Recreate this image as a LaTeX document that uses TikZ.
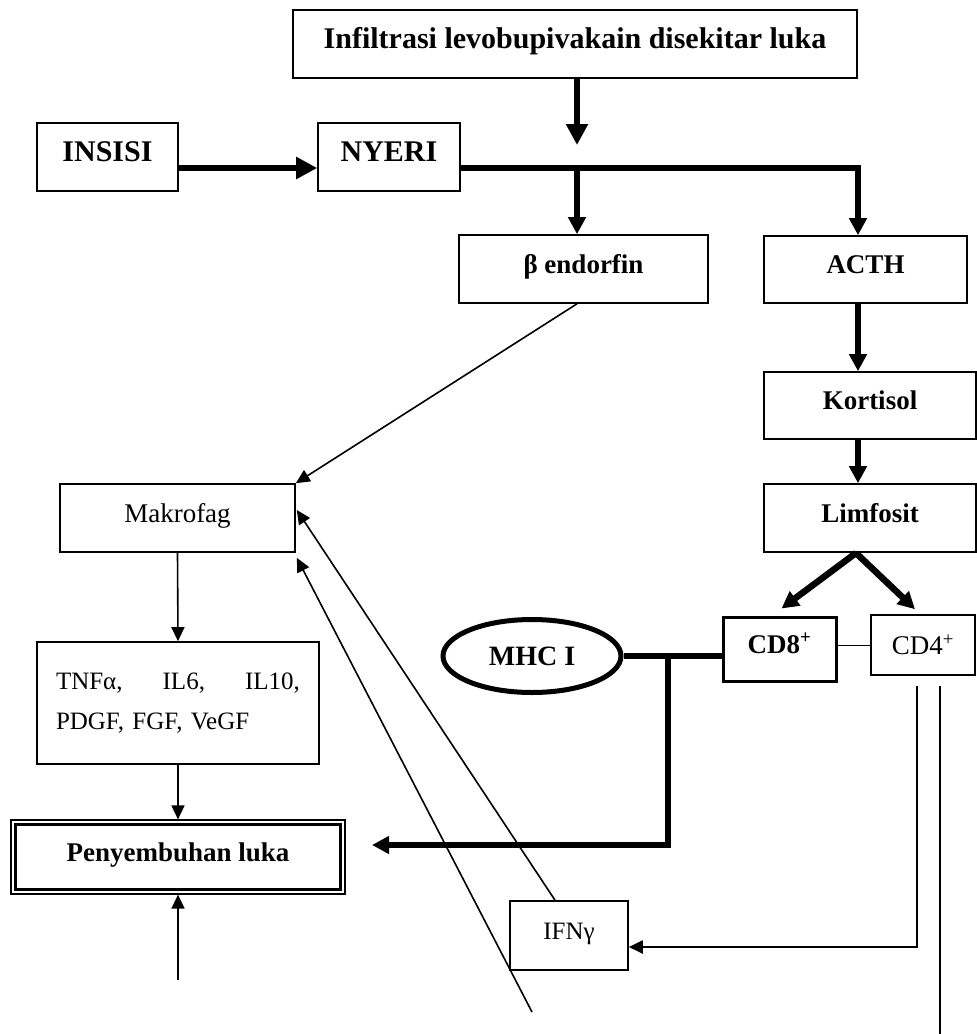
\documentclass[tikz,border=0pt]{standalone}
\usepackage{fontspec}
\setmainfont{Liberation Serif}
\usetikzlibrary{arrows.meta,shapes.geometric,calc}
\begin{document}
\begin{tikzpicture}[x=1pt,y=-1pt,
  box/.style={draw, line width=1.6pt, inner sep=0pt, text height=20pt, text depth=12pt},
  bf30/.style={font=\fontsize{30}{34}\selectfont\bfseries},
  bf27/.style={font=\fontsize{27}{32}\selectfont\bfseries},
  rm27/.style={font=\fontsize{27}{32}\selectfont},
  rm25/.style={font=\fontsize{25}{40}\selectfont},
  fat/.style={line width=6.5pt},
  slim/.style={line width=1.6pt},
  bigtip/.style={-{Triangle[length=21pt,width=21pt]}},
  midtip/.style={-{Triangle[length=17pt,width=17pt]}},
  smalltip/.style={-{Triangle[length=14pt,width=13pt]}}
]
\useasboundingbox (0,0) rectangle (977,1034);

% boxes
\node[box,bf30,minimum width=564pt,minimum height=68pt] (top) at (575,44) {Infiltrasi levobupivakain disekitar luka};
\node[box,bf30,minimum width=141pt,minimum height=68pt] (insisi) at (107.5,157) {INSISI\hspace{24pt}};
\node[box,bf30,minimum width=142pt,minimum height=68pt] (nyeri) at (389,157) {NYERI};
\node[box,bf27,minimum width=249pt,minimum height=68pt] (beta) at (583.5,269) {β endorfin};
\node[box,bf27,minimum width=203pt,minimum height=67pt] (acth) at (865.5,269.5) {ACTH};
\node[box,bf27,minimum width=212pt,minimum height=67pt] (kort) at (870,405.5) {Kortisol};
\node[box,bf27,minimum width=212pt,minimum height=68pt] (limf) at (870,518) {Limfosit};
\node[box,rm27,minimum width=235pt,minimum height=68pt] (makro) at (177.5,518) {Makrofag};
\node[draw,line width=1.6pt,inner sep=0pt,rm25,minimum width=282pt,minimum height=122pt,text width=244pt,align=left] (tnf) at (178,703)
  {\makebox[244pt][s]{TNFα,\hfill IL6,\hfill IL10,}\\PDGF, FGF, VeGF};
\node[draw,line width=1.2pt,inner sep=0pt,text height=20pt,text depth=12pt,bf27,minimum width=334pt,minimum height=74pt] (pen) at (178,857) {Penyembuhan luka};
\draw[line width=2.6pt] ($(pen.north west)+(5,5)$) rectangle ($(pen.south east)+(-5,-5)$);
\node[box,rm25,minimum width=118pt,minimum height=69pt] (ifn) at (569,935.5) {IFNγ};
\node[draw,ellipse,line width=5pt,inner sep=0pt,minimum width=178pt,minimum height=73pt,font=\fontsize{28}{32}\selectfont\bfseries] (mhc) at (532,656) {MHC I};
\node[box,line width=3pt,bf27,minimum width=113pt,minimum height=64pt] (cd8) at (779.5,649) {CD8\textsuperscript{+}};
\node[draw,line width=1.6pt,inner sep=0pt,rm27,minimum width=104pt,minimum height=60pt] (cd4) at (923,645) {CD4\textsuperscript{+}};

% coordinates
\coordinate (t1) at (577,145);
\coordinate (j1) at (577,168);
\coordinate (col) at (858,0);
\coordinate (lf) at (856,553);
\coordinate (j2) at (668,656);
\coordinate (pentip) at (372,845);
\coordinate (v1) at (917,686);
\coordinate (v2) at (940,686);
\coordinate (v2e) at (940,1034);
\coordinate (b1) at (178,980);
\coordinate (b2) at (532,1012);

% thick connectors
\draw[fat,bigtip] (top.south -| t1) -- (t1);
\draw[fat,bigtip] ($(insisi.east)+(0,11)$) -- ($(nyeri.west)+(0,11)$);
\draw[fat,midtip] ($(nyeri.east)+(0,11)$) -| (acth.north -| col);
\draw[fat,midtip] (j1) -- (j1 |- beta.north);
\draw[fat,midtip] (acth.south -| col) -- (kort.north -| col);
\draw[fat,midtip] (kort.south -| col) -- (limf.north -| col);
\draw[fat,midtip] (lf) -- ($(cd8.north)+(2,-7)$);
\draw[fat,midtip] (lf) -- ($(cd4.north)+(-8,-5)$);
\draw[fat] (mhc.east) -- (mhc.east -| cd8.west);
\draw[fat,midtip] (j2) |- (pentip);

% thin connectors
\draw[line width=1pt] (cd4.west -| cd8.east) -- (cd4.west);
\draw[slim,smalltip] (makro.south) -- (tnf.north);
\draw[slim,smalltip] (tnf.south) -- (pen.north);
\draw[slim,smalltip] (b1) -- (pen.south);
\draw[slim,smalltip] ($(beta.south)+(-6.5,0)$) -- (makro.north east);
\draw[slim,smalltip] ($(ifn.north)+(-14,0)$) -- ($(makro.east)+(1,-8)$);
\draw[slim,smalltip] (b2) -- ($(makro.south east)+(1,5)$);
\draw[line width=2pt,smalltip] (v1) |- ($(ifn.east)+(0,11.5)$);
\draw[line width=2pt] (v2) -- (v2e);
\end{tikzpicture}
\end{document}
